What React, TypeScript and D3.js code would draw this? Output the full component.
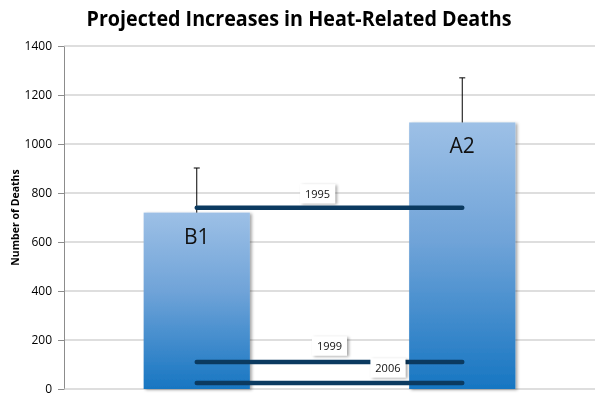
import React, { useEffect, useRef } from "react";
import * as d3 from "d3";

const scenarios = ["B1", "A2"];
const deaths = [720, 1088];
const upperErr = [902, 1270];
const refYears = ["1995", "1999", "2006"];
const refValues = [740, 110, 25];
const yTicks = [0, 200, 400, 600, 800, 1000, 1200, 1400];

const W = 600;
const H = 396;
const margin = { top: 46, right: 5, bottom: 7, left: 64 };

export default function App() {
  const ref = useRef<SVGSVGElement>(null);

  useEffect(() => {
    const svg = d3.select(ref.current);
    svg.selectAll("*").remove();
    const innerW = W - margin.left - margin.right;
    const innerH = H - margin.top - margin.bottom;

    const x = d3.scaleBand().domain(scenarios).range([0, innerW]).paddingInner(0.6).paddingOuter(0.3);
    const y = d3.scaleLinear().domain([0, 1400]).range([innerH, 0]);

    const defs = svg.append("defs");
    const grad = defs.append("linearGradient").attr("id", "barGrad")
      .attr("x1", 0).attr("y1", 0).attr("x2", 0).attr("y2", 1);
    grad.append("stop").attr("offset", "0%").attr("stop-color", "#9dc0e6");
    grad.append("stop").attr("offset", "45%").attr("stop-color", "#6fa3d8");
    grad.append("stop").attr("offset", "100%").attr("stop-color", "#1776c2");

    const shadow = defs.append("filter").attr("id", "shadow")
      .attr("x", "-20%").attr("y", "-20%").attr("width", "150%").attr("height", "150%");
    shadow.append("feDropShadow").attr("dx", 2).attr("dy", 1).attr("stdDeviation", 1.5)
      .attr("flood-color", "#000").attr("flood-opacity", 0.35);

    // title
    svg.append("text")
      .attr("x", 299).attr("y", 26)
      .attr("text-anchor", "middle")
      .attr("font-family", "Open Sans, sans-serif")
      .attr("font-weight", "bold")
      .attr("font-size", 21)
      .attr("textLength", 425)
      .attr("lengthAdjust", "spacingAndGlyphs")
      .attr("fill", "#000")
      .text("Projected Increases in Heat-Related Deaths");

    // y axis label
    svg.append("text")
      .attr("transform", `translate(19, ${margin.top + innerH / 2}) rotate(-90)`)
      .attr("text-anchor", "middle")
      .attr("font-family", "Open Sans, sans-serif")
      .attr("font-weight", "bold")
      .attr("font-size", 10.5)
      .text("Number of Deaths");

    const g = svg.append("g").attr("transform", `translate(${margin.left},${margin.top})`);

    // gridlines
    g.append("g").selectAll("line").data(yTicks.slice(1)).join("line")
      .attr("x1", 0).attr("x2", innerW)
      .attr("y1", d => y(d)).attr("y2", d => y(d))
      .attr("stroke", "#bdbdbd").attr("stroke-width", 1);

    const yAxis = g.append("g")
      .call(d3.axisLeft(y).tickValues(yTicks).tickFormat(d3.format("d")).tickSize(6).tickPadding(6).tickSizeOuter(0));
    yAxis.select(".domain").attr("stroke", "#8c8c8c");
    yAxis.selectAll(".tick line").attr("stroke", "#8c8c8c");
    yAxis.selectAll(".tick text")
      .attr("font-family", "Open Sans, sans-serif")
      .attr("font-size", 12)
      .attr("fill", "#000");

    // bottom axis line
    g.append("line").attr("x1", 0).attr("x2", innerW)
      .attr("y1", innerH).attr("y2", innerH)
      .attr("stroke", "#bdbdbd");

    // bars
    g.append("g").selectAll("rect").data(scenarios).join("rect")
      .attr("x", d => x(d)!)
      .attr("y", (d, i) => y(deaths[i]))
      .attr("width", x.bandwidth())
      .attr("height", (d, i) => innerH - y(deaths[i]))
      .attr("fill", "url(#barGrad)")
      .attr("filter", "url(#shadow)");

    // error bars
    const eb = g.append("g");
    scenarios.forEach((s, i) => {
      const cx = x(s)! + x.bandwidth() / 2;
      eb.append("line").attr("x1", cx).attr("x2", cx)
        .attr("y1", y(deaths[i])).attr("y2", y(upperErr[i]))
        .attr("stroke", "#000").attr("stroke-width", 1);
      eb.append("line").attr("x1", cx - 3).attr("x2", cx + 3)
        .attr("y1", y(upperErr[i])).attr("y2", y(upperErr[i]))
        .attr("stroke", "#000").attr("stroke-width", 1);
    });

    // bar labels
    g.append("g").selectAll("text").data(scenarios).join("text")
      .attr("x", d => x(d)! + x.bandwidth() / 2)
      .attr("y", (d, i) => y(deaths[i]) + 31)
      .attr("text-anchor", "middle")
      .attr("font-family", "Open Sans, sans-serif")
      .attr("font-size", 21)
      .attr("fill", "#111")
      .text(d => d);

    // reference lines
    const x0 = x(scenarios[0])! + x.bandwidth() / 2;
    const x1 = x(scenarios[1])! + x.bandwidth() / 2;
    g.append("g").selectAll("line").data(refValues).join("line")
      .attr("x1", x0).attr("x2", x1)
      .attr("y1", d => y(d)).attr("y2", d => y(d))
      .attr("stroke", "#0b3a60").attr("stroke-width", 4.5)
      .attr("stroke-linecap", "round");

    // reference labels
    const labelX = [0.455, 0.5, 0.72];
    const labelDy = [-14, -16, 0];
    const lbl = g.append("g");
    refYears.forEach((yr, i) => {
      const cx = x0 + (x1 - x0) * labelX[i];
      const cy = y(refValues[i]) + labelDy[i] - (i === 2 ? 15 : 0);
      const bw = 35, bh = 19;
      lbl.append("rect")
        .attr("x", cx - bw / 2).attr("y", cy - bh / 2)
        .attr("width", bw).attr("height", bh)
        .attr("fill", "#fff")
        .attr("filter", "url(#shadow)");
      lbl.append("text")
        .attr("x", cx).attr("y", cy + 4)
        .attr("text-anchor", "middle")
        .attr("font-family", "Open Sans, sans-serif")
        .attr("font-size", 11)
        .attr("fill", "#111")
        .text(yr);
    });
  }, []);

  return <svg ref={ref} width={W} height={H} style={{ display: "block", position: "fixed", top: 0, left: 0 }} />;
}
